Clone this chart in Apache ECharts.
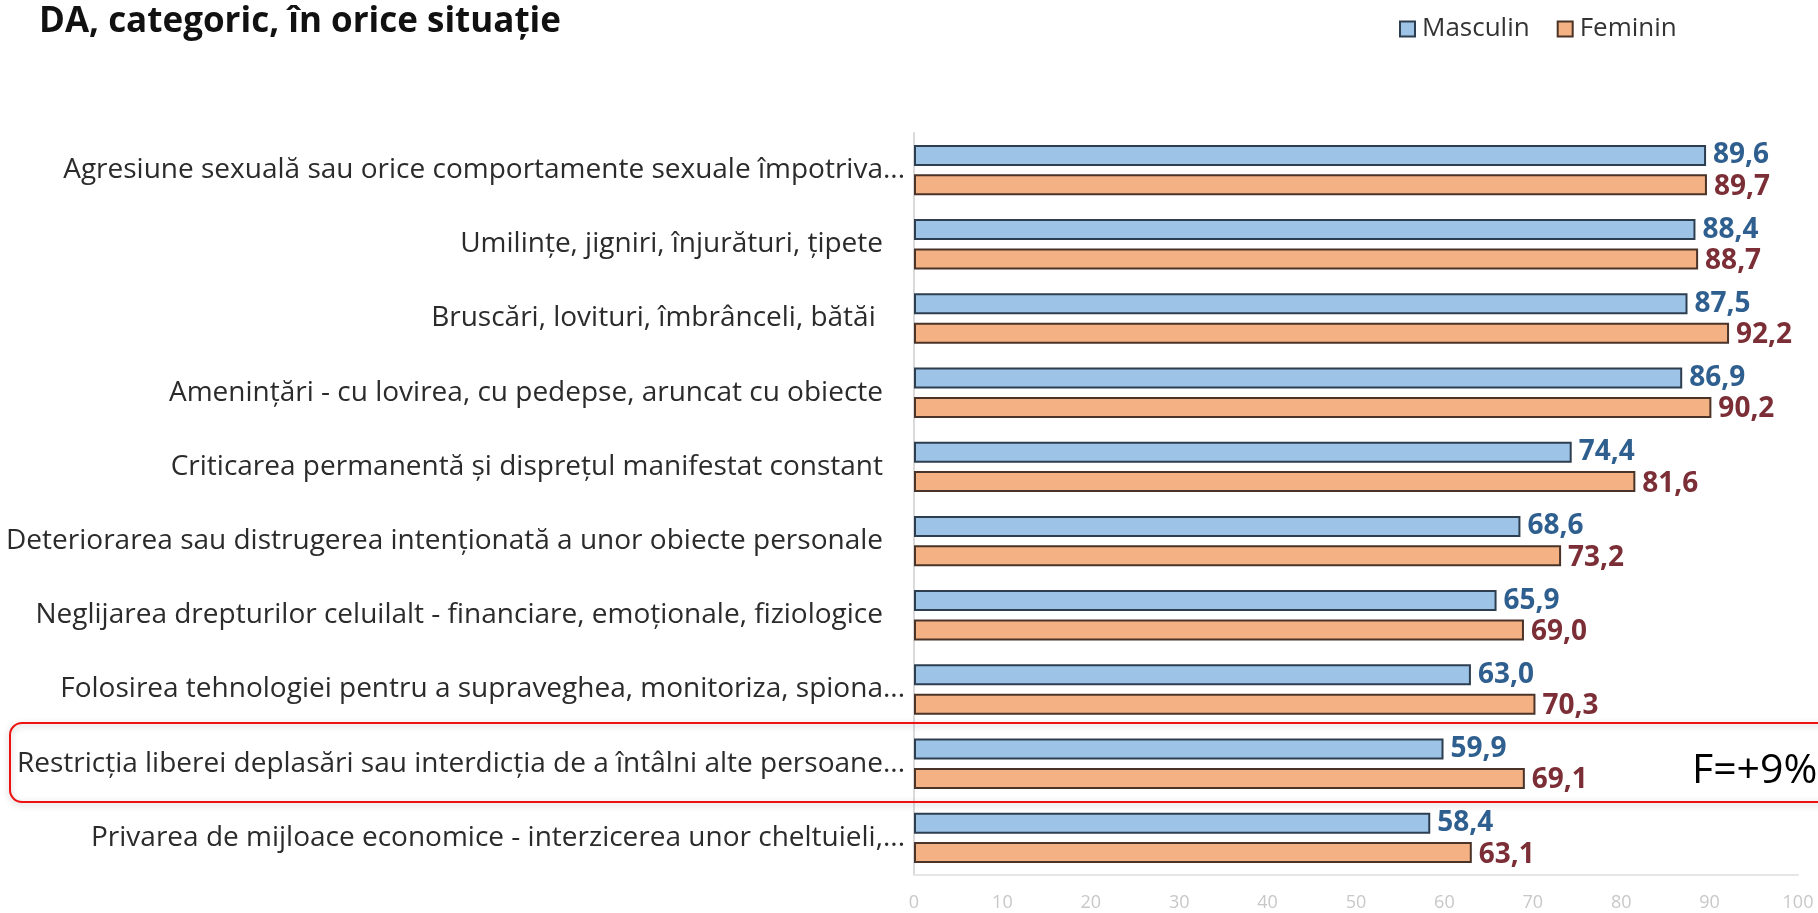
<!DOCTYPE html>
<html>
<head>
<meta charset="utf-8">
<script src="https://cdn.jsdelivr.net/npm/echarts@6/dist/echarts.min.js"></script>
<style>
  html, body { margin: 0; padding: 0; background: #ffffff; }
  #chart { width: 1818px; height: 913px; }
</style>
</head>
<body>
<div id="chart"></div>
<script>
// categorii, de sus in jos
const categories = [
  "Agresiune sexuală sau orice comportamente sexuale împotriva...",
  "Umilințe, jigniri, înjurături, țipete",
  "Bruscări, lovituri, îmbrânceli, bătăi ",
  "Amenințări - cu lovirea, cu pedepse, aruncat cu obiecte",
  "Criticarea permanentă și disprețul manifestat constant",
  "Deteriorarea sau distrugerea intenționată a unor obiecte personale",
  "Neglijarea drepturilor celuilalt - financiare, emoționale, fiziologice",
  "Folosirea tehnologiei pentru a supraveghea, monitoriza, spiona...",
  "Restricția liberei deplasări sau interdicția de a întâlni alte persoane...",
  "Privarea de mijloace economice - interzicerea unor cheltuieli,..."
];
const masculin = [89.6, 88.4, 87.5, 86.9, 74.4, 68.6, 65.9, 63.0, 59.9, 58.4];
const feminin = [89.7, 88.7, 92.2, 90.2, 81.6, 73.2, 69.0, 70.3, 69.1, 63.1];
const xTicks = [0, 10, 20, 30, 40, 50, 60, 70, 80, 90, 100];

const font = "'Open Sans', 'Noto Sans', sans-serif";
const fmt = p => p.value.toFixed(1).replace(".", ",");

const myChart = echarts.init(document.getElementById("chart"));
const option = {
  backgroundColor: "#ffffff",
  animation: false,
  title: {
    text: "DA, categoric, în orice situație",
    left: 34,
    top: 0,
    textStyle: { fontFamily: font, fontSize: 35, fontWeight: "bold", color: "#111111" }
  },
  legend: {
    data: ["Masculin", "Feminin"],
    left: 1394,
    top: 11,
    itemWidth: 15,
    itemHeight: 15,
    itemGap: 27,
    icon: "rect",
    textStyle: { fontFamily: font, fontSize: 26, color: "#333333", padding: [0, 0, 0, 2] }
  },
  grid: {
    left: 914,
    right: 20,
    top: 133,
    bottom: 38,
    containLabel: false
  },
  xAxis: {
    type: "value",
    min: xTicks[0],
    max: xTicks[xTicks.length - 1],
    interval: 10,
    axisLine: { show: true, lineStyle: { color: "#e6e6e6", width: 2 } },
    axisTick: { show: false },
    splitLine: { show: false },
    axisLabel: { fontFamily: font, fontSize: 18, color: "#c8c8c8", margin: 19 }
  },
  yAxis: {
    type: "category",
    inverse: true,
    data: categories,
    axisLine: { show: true, lineStyle: { color: "#dadada", width: 2 } },
    axisTick: { show: false },
    axisLabel: {
      fontFamily: font,
      fontSize: 28,
      color: "#2b2b2b",
      margin: 9,
      // etichetele intregi se termina mai la stanga decat cele trunchiate
      formatter: v => v.endsWith("...") ? v : "{p|" + v + "}",
      rich: { p: { fontFamily: font, fontSize: 28, color: "#2b2b2b", padding: [0, 22, 0, 0] } }
    }
  },
  graphic: [
    {
      type: "rect",
      shape: { x: 10, y: 723, width: 1830, height: 79, r: 12 },
      style: { fill: "none", stroke: "#ee1111", lineWidth: 2, shadowBlur: 6, shadowColor: "rgba(0,0,0,0.25)", shadowOffsetY: 2 },
      z: 10
    },
    {
      type: "text",
      left: 1692,
      top: 751,
      style: { text: "F=+9%", fontFamily: font, fontSize: 41, fill: "#000000" },
      z: 11
    }
  ],
  series: [
    {
      name: "Masculin",
      type: "bar",
      data: masculin,
      barWidth: 21,
      barGap: "40%",
      itemStyle: { color: "#9dc3e6", borderColor: "#2c3e50", borderWidth: 2 },
      label: {
        show: true,
        position: "right",
        distance: 7,
        offset: [0, 0],
        formatter: fmt,
        fontFamily: font,
        fontSize: 28,
        fontWeight: "bold",
        color: "#2f5f8f"
      }
    },
    {
      name: "Feminin",
      type: "bar",
      data: feminin,
      barWidth: 21,
      itemStyle: { color: "#f4b183", borderColor: "#4a3328", borderWidth: 2 },
      label: {
        show: true,
        position: "right",
        distance: 7,
        offset: [0, 2],
        formatter: fmt,
        fontFamily: font,
        fontSize: 28,
        fontWeight: "bold",
        color: "#7b2e36"
      }
    }
  ]
};
myChart.setOption(option);
window.addEventListener("resize", function () {
  myChart.resize();
});
</script>
</body>
</html>
